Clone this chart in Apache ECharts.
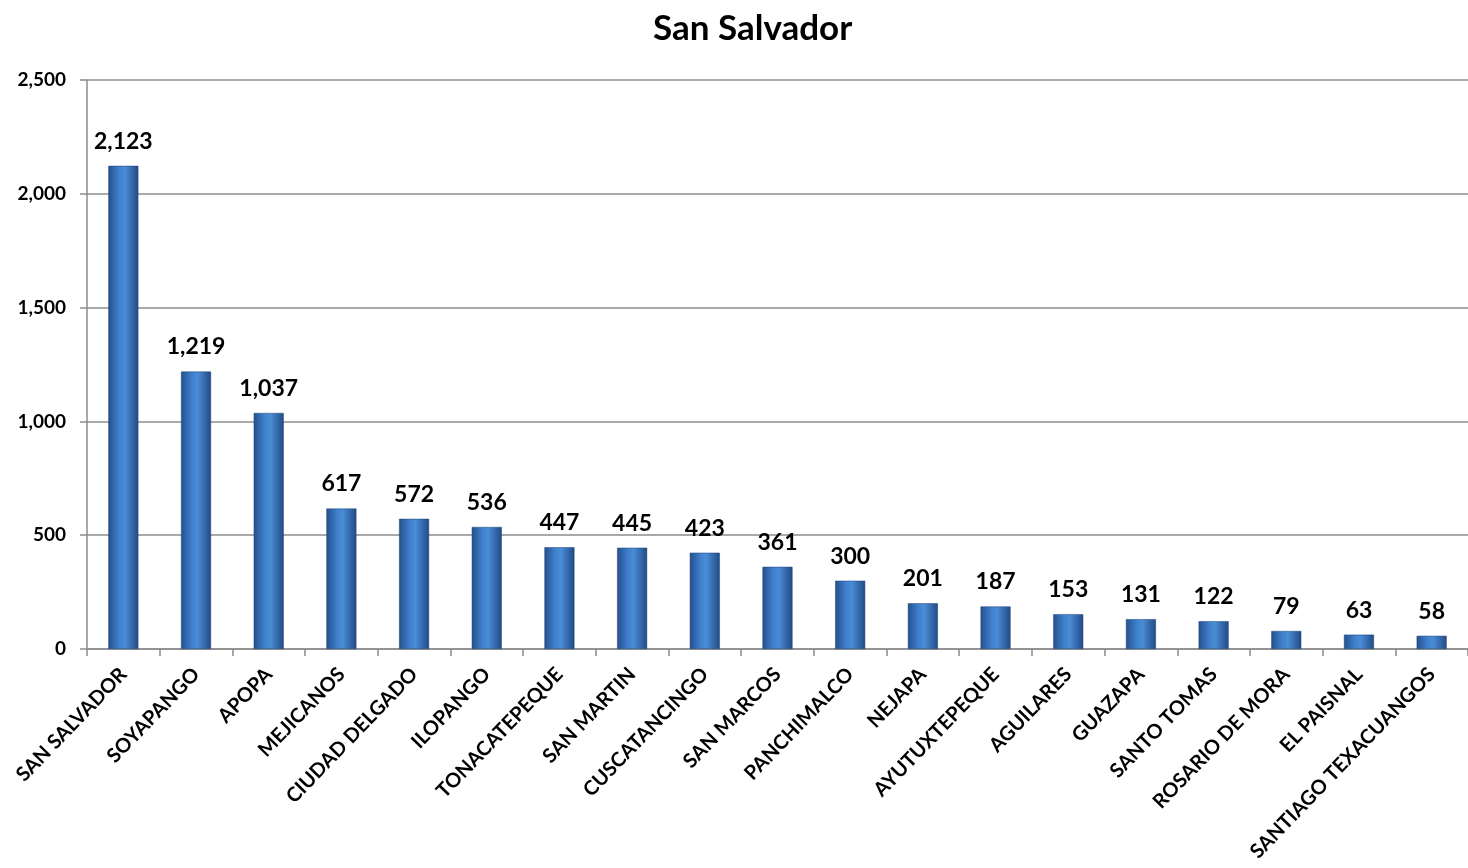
<!DOCTYPE html>
<html>
<head>
<meta charset="utf-8">
<script src="https://cdn.jsdelivr.net/npm/echarts@6/dist/echarts.min.js"></script>
<style>
  html, body { margin: 0; padding: 0; background: #fff; }
  #chart { width: 1468px; height: 868px; }
</style>
</head>
<body>
<div id="chart"></div>
<script>
const municipios = [
  'SAN SALVADOR', 'SOYAPANGO', 'APOPA', 'MEJICANOS', 'CIUDAD DELGADO',
  'ILOPANGO', 'TONACATEPEQUE', 'SAN MARTIN', 'CUSCATANCINGO', 'SAN MARCOS',
  'PANCHIMALCO', 'NEJAPA', 'AYUTUXTEPEQUE', 'AGUILARES', 'GUAZAPA',
  'SANTO TOMAS', 'ROSARIO DE MORA', 'EL PAISNAL', 'SANTIAGO TEXACUANGOS'
]
const casos = [2123, 1219, 1037, 617, 572, 536, 447, 445, 423, 361, 300, 201, 187, 153, 131, 122, 79, 63, 58]

const chart = echarts.init(document.getElementById('chart'))

const barColor = new echarts.graphic.LinearGradient(0, 0, 1, 0, [
  { offset: 0, color: '#244f8c' },
  { offset: 0.35, color: '#3f7fcb' },
  { offset: 0.55, color: '#4a8cd6' },
  { offset: 1, color: '#214a85' }
])

const fmt = v => v.toLocaleString('en-US')

chart.setOption({
  animation: false,
  title: {
    text: 'San Salvador',
    left: 648,
    top: 6,
    textStyle: { fontFamily: 'Lato', fontSize: 35, fontWeight: 'bold', color: '#000' }
  },
  grid: { left: 87, top: 80, width: 1385, height: 569, containLabel: false },
  xAxis: {
    type: 'category',
    data: municipios,
    axisLine: { lineStyle: { color: '#8c8c8c', width: 1.5 } },
    axisTick: { show: true, length: 7, lineStyle: { color: '#8c8c8c', width: 1.5 } },
    axisLabel: {
      interval: 0,
      rotate: 46,
      margin: 22,
      fontFamily: 'Lato',
      fontSize: 20,
      fontWeight: 'bold',
      color: '#000'
    }
  },
  yAxis: {
    type: 'value',
    min: 0,
    max: 2500,
    interval: 500,
    axisLine: { show: true, lineStyle: { color: '#8c8c8c', width: 1.5 } },
    axisTick: { show: true, length: 7, lineStyle: { color: '#8c8c8c', width: 1.5 } },
    splitLine: { lineStyle: { color: '#8c8c8c', width: 1.5 } },
    axisLabel: {
      formatter: fmt,
      margin: 21,
      fontFamily: 'Lato',
      fontSize: 19,
      fontWeight: 'bold',
      color: '#000'
    }
  },
  series: [{
    type: 'bar',
    data: casos,
    barWidth: 30,
    itemStyle: { color: barColor, borderColor: '#1e4478', borderWidth: 0.5 },
    label: {
      show: true,
      position: 'top',
      distance: 13,
      formatter: p => fmt(p.value),
      fontFamily: 'Lato',
      fontSize: 23,
      fontWeight: 'bold',
      color: '#000'
    }
  }]
})
</script>
</body>
</html>
